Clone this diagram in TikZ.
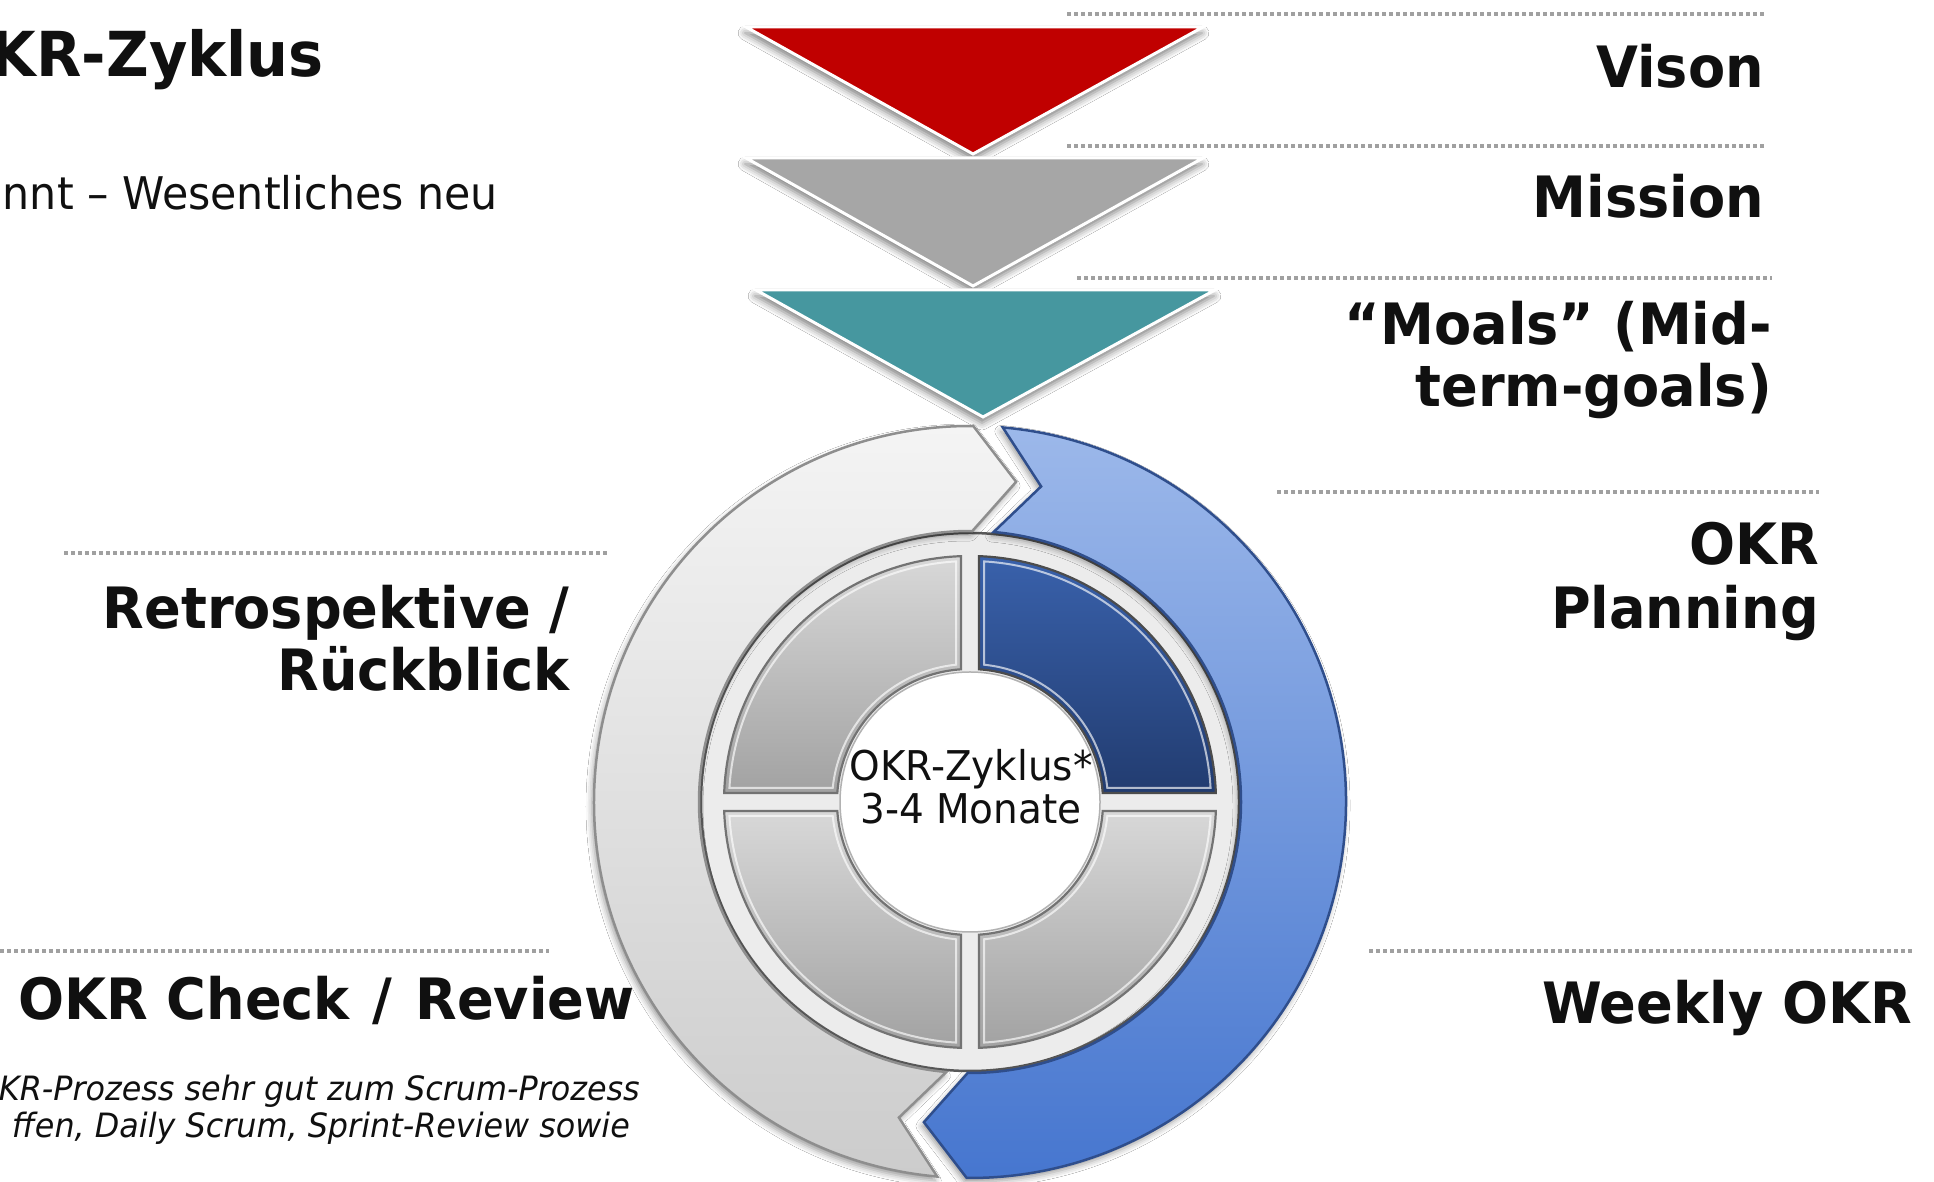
\documentclass[tikz,border=0pt]{standalone}
\usepackage{fontspec}
\setmainfont{DejaVu Sans}[FakeStretch=0.95]
\usetikzlibrary{calc,shadows.blur}

\definecolor{ink}{HTML}{101010}
\definecolor{dotgray}{HTML}{A0A0A0}
\definecolor{visionred}{HTML}{C00000}
\definecolor{missiongray}{HTML}{A6A6A6}
\definecolor{moalteal}{HTML}{46979F}
\definecolor{ringlight}{HTML}{F4F4F4}
\definecolor{ringdark}{HTML}{CCCCCC}
\definecolor{ringrim}{HTML}{8E8E8E}
\definecolor{bluelight}{HTML}{9CB8EA}
\definecolor{bluedark}{HTML}{4676CF}
\definecolor{bluerim}{HTML}{2F4E8C}
\definecolor{qtop}{HTML}{D8D8D8}
\definecolor{qbot}{HTML}{A2A2A2}
\definecolor{qbluetop}{HTML}{3961AB}
\definecolor{qbluebot}{HTML}{223C70}
\definecolor{backdisc}{HTML}{ECECEC}

% circular arrow segment: #1 tail angle, #2 head angle (clockwise)
\newcommand{\ringarrow}[2]{%
  ($(C)+(#1:376)$) arc[start angle=#1, end angle=#2, radius=376]
  -- ($(C)+({#2-7.7}:323.5)$) -- ($(C)+(#2:271)$)
  arc[start angle=#2, end angle=#1, radius=271]
  -- ($(C)+({#1-7.7}:323.5)$) -- cycle}

% quarter ring: #1 start angle, #2 outer radius, #3 inner radius, #4 half gap
\newcommand{\quarterring}[4]{%
  ($(C)+({#1+asin(#4/#2)}:#2)$)
  arc[start angle={#1+asin(#4/#2)}, end angle={#1+90-asin(#4/#2)}, radius=#2]
  -- ($(C)+({#1+90-asin(#4/#3)}:#3)$)
  arc[start angle={#1+90-asin(#4/#3)}, end angle={#1+asin(#4/#3)}, radius=#3]
  -- cycle}

\tikzset{
  headline/.style={font=\fontsize{57}{62}\selectfont\bfseries, text=ink,
    inner sep=0pt, anchor=base east},
  notetext/.style={font=\fontsize{33.5}{37}\selectfont\itshape, text=ink,
    inner sep=0pt, anchor=base east},
  dotline/.style={draw=dotgray, line width=3.5, dash pattern=on 4 off 3},
  chevron/.style={draw=white, line width=3, line join=miter,
    blur shadow={shadow xshift=-1pt, shadow yshift=-6pt,
      shadow blur radius=7pt, shadow opacity=50}},
  arrowgray/.style={top color=ringlight, bottom color=ringdark,
    draw=ringrim, line width=2.5, line join=miter,
    blur shadow={shadow xshift=-2pt, shadow yshift=-4pt,
      shadow blur radius=6pt, shadow opacity=40}},
  arrowblue/.style={top color=bluelight, bottom color=bluedark,
    draw=bluerim, line width=2.5, line join=miter,
    blur shadow={shadow xshift=-2pt, shadow yshift=-4pt,
      shadow blur radius=6pt, shadow opacity=40}},
  quadgray/.style={top color=qtop, bottom color=qbot, draw=black!55,
    line width=2.2},
  quadblue/.style={top color=qbluetop, bottom color=qbluebot, draw=black!70,
    line width=2.2},
  bevel/.style={draw=white, draw opacity=0.65, line width=2},
  centertext/.style={font=\fontsize{41}{44}\selectfont, text=ink,
    inner sep=0pt, anchor=base},
}

\begin{document}
\begin{tikzpicture}[x=1pt, y=1pt]
\useasboundingbox (0,0) rectangle (1934,1182);
\clip (0,0) rectangle (1934,1182);
\fill[white] (0,0) rectangle (1934,1182);

% heading on the left
\node[font=\fontsize{62}{68}\selectfont\bfseries, text=ink, inner sep=0pt,
  anchor=base east] (title) at (324,1105) {KR-Zyklus};
\node[font=\fontsize{45}{50}\selectfont, text=ink, inner sep=0pt,
  anchor=base east] (subtitle) at (498,972) {nnt – Wesentliches neu};

% dotted separators
\draw[dotline] (1067,1168) -- (1764,1168);
\draw[dotline] (1067,1036) -- (1764,1036);
\draw[dotline] (1077,904) -- (1772,904);
\draw[dotline] (1277,690) -- (1819,690);
\draw[dotline] (64,629) -- (608,629);
\draw[dotline] (0,231) -- (549,231);
\draw[dotline] (1369,231) -- (1912,231);

% goal cascade
\path[chevron, fill=visionred] (746,1155) -- (1203,1155) -- (973,1028) -- cycle;
\path[chevron, fill=missiongray] (746,1024) -- (1203,1024) -- (973,896) -- cycle;
\path[chevron, fill=moalteal] (756,892) -- (1215,892) -- (983,765) -- cycle;

% cycle
\coordinate (C) at (970,380);
\fill[backdisc, draw=black!65, line width=2.5] (C) circle[radius=269];

\path[arrowgray] \ringarrow{265}{89.5};
\path[arrowblue] \ringarrow{85}{-90.5};

\path[quadblue] \quarterring{0}{246}{133}{9};
\path[quadgray] \quarterring{90}{246}{133}{9};
\path[quadgray] \quarterring{180}{246}{133}{9};
\path[quadgray] \quarterring{270}{246}{133}{9};
\foreach \a in {0,90,180,270}
  \path[bevel] \quarterring{\a}{241}{138}{14};

\fill[white, draw=black!30, line width=1.5] (C) circle[radius=130];

\node[centertext] (cycle) at (971,401) {OKR-Zyklus*};
\node[centertext] (cycleb) at (971,358) {3-4 Monate};

% labels
\node[headline] (vision) at (1764,1094) {Vison};
\node[headline] (mission) at (1764,964) {Mission};
\node[headline] (moals) at (1772,837) {“Moals” (Mid-};
\node[headline] (moalsb) at (1772,775) {term-goals)};
\node[headline] (planning) at (1819,617) {OKR};
\node[headline] (planningb) at (1819,553) {Planning};
\node[headline] (retro) at (570,553) {Retrospektive /};
\node[headline] (retrob) at (570,491) {Rückblick};
\node[headline, anchor=base west] (check) at (18,162)
  {OKR Check\hspace{4pt} /\hspace{4pt} Review};
\node[headline] (weekly) at (1912,158) {Weekly OKR};

% note below
\node[notetext] (note) at (640,81) {KR-Prozess sehr gut zum Scrum-Prozess};
\node[notetext] (noteb) at (630,44) {ffen, Daily Scrum, Sprint-Review sowie};
\end{tikzpicture}
\end{document}
